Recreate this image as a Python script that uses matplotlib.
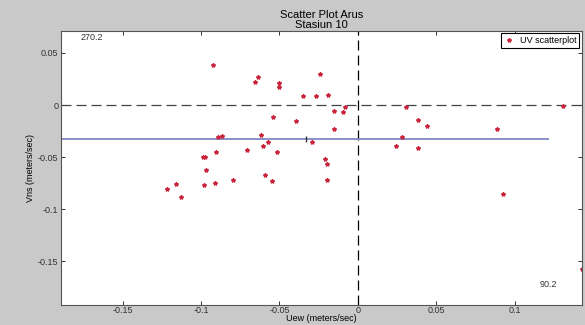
import numpy as np
import matplotlib.pyplot as plt

plt.rcParams['font.family'] = ['Liberation Sans', 'DejaVu Sans']

# data (meters/sec)
u = [-0.0925, -0.0637, -0.0654, -0.0501, -0.0505, -0.0244, -0.0350, -0.0268,
     -0.0191, -0.0085, -0.0094, -0.0151, -0.0540, -0.0395, -0.0153, -0.0890,
     -0.0864, -0.0620, -0.0571, -0.0605, -0.0707, -0.0518, -0.0904, -0.0990,
     -0.0975, -0.0968, -0.1219, -0.1157, -0.1127, -0.0983, -0.0909, -0.0798,
     -0.0590, -0.0546, -0.0295, -0.0210, -0.0200, -0.0195, 0.0306, 0.0380,
     0.0441, 0.0282, 0.0244, 0.0380, 0.0883, 0.1308, 0.0926, 0.1430]
v = [0.0385, 0.0272, 0.0221, 0.0209, 0.0170, 0.0295, 0.0089, 0.0089,
     0.0093, -0.0016, -0.0067, -0.0055, -0.0115, -0.0151, -0.0234, -0.0305,
     -0.0298, -0.0285, -0.0353, -0.0391, -0.0436, -0.0455, -0.0455, -0.0500,
     -0.0500, -0.0620, -0.0808, -0.0757, -0.0878, -0.0769, -0.0744, -0.0715,
     -0.0670, -0.0728, -0.0350, -0.0522, -0.0570, -0.0718, -0.0016, -0.0141,
     -0.0205, -0.0311, -0.0391, -0.0410, -0.0234, -0.0010, -0.0853, -0.1570]
mean_u = -0.033
mean_v = -0.0327
line_end = 0.122

xticks = [-0.15, -0.1, -0.05, 0, 0.05, 0.1]
xlabels = ['-0.15', '-0.1', '-0.05', '0', '0.05', '0.1']
yticks = [0.05, 0, -0.05, -0.1, -0.15]
ylabels = ['0.05', '0', '-0.05', '-0.1', '-0.15']
xlim = (-0.189, 0.1427)
ylim = (-0.192, 0.0714)

fig = plt.figure(figsize=(5.85, 3.25), dpi=100, facecolor='#c9c9c9')
ax = fig.add_axes([0.1048, 0.0615, 0.89, 0.844])
ax.set_facecolor('white')

ax.axhline(0, color='#444444', linestyle=(0, (8, 4)), linewidth=0.9)
ax.axvline(0, color='black', linestyle=(0, (8, 4)), linewidth=0.9)
ax.hlines(mean_v, xlim[0], line_end, color='#8088c4', linewidth=1.3)
ax.plot(mean_u, mean_v, marker='|', color='#333333', markersize=5, linestyle='none')
ax.plot(u, v, '*', color='#c8243c', markersize=3, linestyle='none',
        label='UV scatterplot')

ax.set_xlim(xlim)
ax.set_ylim(ylim)
ax.set_xticks(xticks)
ax.set_xticklabels(xlabels)
ax.set_yticks(yticks)
ax.set_yticklabels(ylabels)
ax.tick_params(direction='in', length=3, width=0.7, top=True, right=True,
               labelsize=6.5, colors='#333333', pad=2)
ax.tick_params(axis='x', pad=1)
for s in ax.spines.values():
    s.set_color('#555555')
    s.set_linewidth(0.8)

ax.text(-0.177, 0.065, '270.2', fontsize=6.5, color='#333333', va='center')
ax.text(0.116, -0.172, '90.2', fontsize=6.5, color='#333333', va='center')

ax.set_title('Scatter Plot Arus\nStasiun 10', fontsize=8, pad=2, linespacing=0.95)
ax.set_xlabel('Uew (meters/sec)', fontsize=6.5, labelpad=-1)
ax.set_ylabel('Vns (meters/sec)', fontsize=6.5, labelpad=2)

leg = ax.legend(loc='upper right', fontsize=6.5, fancybox=False, framealpha=1,
                edgecolor='black', borderpad=0.3, handlelength=1.2,
                handletextpad=0.6, borderaxespad=0.3)
leg.get_frame().set_linewidth(0.8)

fig.savefig('out.png', dpi=100, facecolor=fig.get_facecolor())
